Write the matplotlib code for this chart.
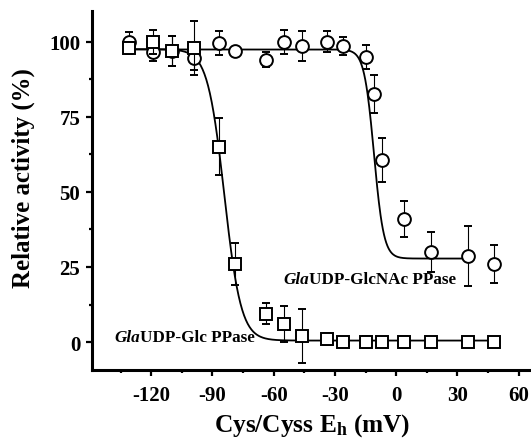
import numpy as np
import matplotlib
matplotlib.use("Agg")
import matplotlib.pyplot as plt
from matplotlib.ticker import MultipleLocator

# --- data ---
eh_glc = [-131, -119, -110, -99, -87, -79, -64, -55, -46, -34, -26, -15, -7, 4, 17, 35, 48]
act_glc = [98, 100, 97, 98, 65, 26, 9.5, 6, 2, 1, 0, 0, 0, 0, 0, 0, 0]
err_glc = [2, 4, 5, 9, 9.5, 7, 3.5, 6, 9, 2, 1, 2, 1, 2, 1, 1, 1]

eh_glcnac = [-131, -119, -110, -99, -87, -79, -64, -55, -46, -34, -26, -15, -11, -7, 4, 17, 35, 48]
act_glcnac = [100, 96.5, 97, 94.5, 99.5, 97, 94, 100, 98.5, 100, 98.5, 95, 82.5, 60.5, 41, 30, 28.5, 26]
err_glcnac = [3.3, 3, 5, 4, 4, 1, 2.5, 4, 5, 3.6, 3, 4, 6.4, 7.3, 6, 6.8, 10, 6.3]

# Boltzmann fit parameters (top, bottom, midpoint, slope)
fit_glc = (97.5, 0.5, -84.2, 4.1)
fit_glcnac = (97.4, 27.8, -10.9, 2.4)
fit_range_glc = (-131, 48)
fit_range_glcnac = (-131, 35)

xticks = [-120, -90, -60, -30, 0, 30, 60]
yticks = [0, 25, 50, 75, 100]

SERIF = ["Liberation Serif", "DejaVu Serif"]
plt.rcParams["font.family"] = SERIF
plt.rcParams["font.weight"] = "bold"
plt.rcParams["mathtext.default"] = "regular"
plt.rcParams["axes.unicode_minus"] = False


def boltz(x, p):
    top, bot, x0, dx = p
    return bot + (top - bot) / (1 + np.exp((x - x0) / dx))


fig = plt.figure(figsize=(5.31, 4.39), dpi=100)
ax = fig.add_axes([92 / 531, (439 - 371) / 439, (531 - 92) / 531, (371 - 12) / 439])

xs = np.linspace(*fit_range_glcnac, 600)
ax.plot(xs, boltz(xs, fit_glcnac), color="black", lw=1.3, zorder=2)
xs2 = np.linspace(*fit_range_glc, 600)
ax.plot(xs2, boltz(xs2, fit_glc), color="black", lw=1.3, zorder=2)

ax.errorbar(eh_glcnac, act_glcnac, yerr=err_glcnac, fmt="o", ms=9.2, mfc="white",
            mec="black", mew=1.4, ecolor="black", elinewidth=0.8, capsize=2.8,
            capthick=0.8, zorder=3)
ax.errorbar(eh_glc, act_glc, yerr=err_glc, fmt="s", ms=8.2, mfc="white",
            mec="black", mew=1.4, ecolor="black", elinewidth=0.8, capsize=2.8,
            capthick=0.8, zorder=4)

ax.set_xlim(-149, 66)
ax.set_ylim(-9.3, 110.2)
ax.set_xticks(xticks)
ax.set_yticks(yticks)
ax.xaxis.set_minor_locator(MultipleLocator(15))
ax.yaxis.set_minor_locator(MultipleLocator(12.5))
for s in ["top", "right"]:
    ax.spines[s].set_visible(False)
for s in ["left", "bottom"]:
    ax.spines[s].set_linewidth(2.2)
ax.tick_params(which="major", direction="out", length=4.5, width=1.6, labelsize=15)
ax.tick_params(which="minor", direction="out", length=2.5, width=1.6)
ax.tick_params(axis="x", which="major", pad=6)
ax.tick_params(axis="y", which="major", pad=4)
for lab in ax.get_xticklabels() + ax.get_yticklabels():
    lab.set_fontweight("bold")

fig.text(312 / 531, 1 - 432 / 439, r"Cys/Cyss E$_\mathregular{h}$ (mV)", ha="center",
         va="baseline", fontsize=18.3, fontweight="bold")
fig.text(23 / 531, 1 - 178 / 439, "Relative activity (%)", ha="center", va="center",
         rotation=90, fontsize=17.9, fontweight="bold")

# curve labels: italic "Gla" + bold rest
t1 = ax.text(-138.2, -0.9, "Gla", fontsize=12.3, fontweight="bold", fontstyle="italic",
             va="bottom", ha="left")
ax.annotate("UDP-Glc PPase", xy=(1, 0), xycoords=t1, va="bottom", ha="left",
            fontsize=12.3, fontweight="bold")
t2 = ax.text(-55.5, 18.3, "Gla", fontsize=12.3, fontweight="bold", fontstyle="italic",
             va="bottom", ha="left")
ax.annotate("UDP-GlcNAc PPase", xy=(1, 0), xycoords=t2, va="bottom", ha="left",
            fontsize=12.3, fontweight="bold")

fig.savefig("out.png", dpi=100)
